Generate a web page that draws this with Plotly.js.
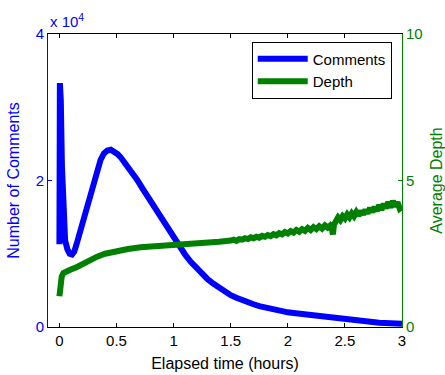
<!DOCTYPE html>
<html>
<head>
<meta charset="utf-8">
<script src="https://cdn.plot.ly/plotly-3.0.1.min.js"></script>
<style>html,body{margin:0;padding:0;background:#fff;}#chart{width:445px;height:375px;}</style>
</head>
<body>
<div id="chart"></div>
<script>
// Elapsed time (hours) and number of comments
const commentTime = [0, 0.004, 0.012, 0.022, 0.035, 0.05, 0.07, 0.09, 0.11, 0.13, 0.15, 0.18, 0.21, 0.24, 0.27, 0.30, 0.33, 0.36, 0.39, 0.42, 0.45, 0.48, 0.51, 0.54, 0.57, 0.60, 0.64, 0.68, 0.72, 0.76, 0.80, 0.85, 0.90, 0.95, 1.00, 1.05, 1.10, 1.15, 1.20, 1.25, 1.30, 1.35, 1.40, 1.45, 1.50, 1.55, 1.60, 1.65, 1.70, 1.75, 1.80, 1.85, 1.90, 1.95, 2.00, 2.05, 2.10, 2.15, 2.20, 2.25, 2.30, 2.35, 2.39, 2.42, 2.46, 2.50, 2.55, 2.60, 2.66, 2.72, 2.80, 2.90, 3.0];
const comments = [11300, 33300, 31000, 22000, 14500, 11800, 10600, 10000, 9900, 10300, 11300, 13000, 14700, 16500, 18300, 20000, 21500, 22800, 23700, 24100, 24200, 24000, 23600, 23100, 22500, 21900, 21000, 20100, 19100, 18100, 17100, 15900, 14700, 13600, 12300, 11000, 9900, 8900, 8000, 7200, 6500, 5900, 5300, 4800, 4350, 4000, 3650, 3350, 3100, 2850, 2650, 2450, 2300, 2150, 2000, 1900, 1800, 1700, 1620, 1560, 1500, 1460, 1420, 1250, 1100, 1000, 900, 800, 700, 650, 580, 500, 450];

// Elapsed time (hours) and average depth
const depthTime = [0, 0.01, 0.02, 0.035, 0.06, 0.1, 0.15, 0.2, 0.25, 0.33, 0.4, 0.5, 0.6, 0.71, 0.85, 1.0, 1.1, 1.2, 1.3, 1.4,
  1.500, 1.525, 1.550, 1.575, 1.600, 1.625, 1.650, 1.675, 1.700, 1.725, 1.750, 1.775, 1.800, 1.825, 1.850, 1.875, 1.900, 1.925, 1.950, 1.975,
  2.000, 2.025, 2.050, 2.075, 2.100, 2.125, 2.150, 2.175, 2.200, 2.225, 2.250, 2.275, 2.300, 2.325, 2.350, 2.370, 2.385, 2.395, 2.405, 2.420,
  2.440, 2.460, 2.480, 2.500, 2.520, 2.540, 2.560, 2.580, 2.600, 2.620, 2.640, 2.660, 2.680, 2.700, 2.720, 2.740, 2.760, 2.780, 2.800, 2.820,
  2.840, 2.860, 2.880, 2.900, 2.920, 2.940, 2.960, 2.980, 3.000];
const depth = [1.05, 1.5, 1.72, 1.84, 1.9, 1.96, 2.04, 2.15, 2.25, 2.4, 2.5, 2.6, 2.66, 2.72, 2.75, 2.78, 2.81, 2.84, 2.87, 2.91,
  2.95, 2.98, 2.94, 3.00, 2.98, 3.03, 3.00, 3.06, 3.03, 3.08, 3.05, 3.11, 3.08, 3.14, 3.10, 3.17, 3.13, 3.20, 3.16, 3.24,
  3.19, 3.27, 3.22, 3.31, 3.25, 3.34, 3.28, 3.38, 3.31, 3.41, 3.34, 3.44, 3.36, 3.47, 3.39, 3.46, 3.36, 3.16, 3.50, 3.66,
  3.74, 3.65, 3.78, 3.70, 3.84, 3.74, 3.88, 3.78, 3.92, 3.80, 3.96, 3.84, 4.00, 3.88, 4.06, 3.92, 4.10, 3.96, 4.16, 4.00,
  4.20, 4.06, 4.26, 4.08, 4.30, 4.12, 4.26, 4.04, 4.10];

const xTicks = [0, 0.5, 1, 1.5, 2, 2.5, 3];
const xTickText = ['0', '0.5', '1', '1.5', '2', '2.5', '3'];
const yTicks = [0, 20000, 40000];
const yTickText = ['0', '2', '4'];
const y2Ticks = [0, 5, 10];
const y2TickText = ['0', '5', '10'];

const BLUE = 'rgb(0,0,255)';
const GREEN = 'rgb(0,128,0)';
const FONT = 'Liberation Sans, Arial, Helvetica, sans-serif';

const traces = [
  {x: commentTime, y: comments, type: 'scatter', mode: 'lines', name: 'Comments',
   line: {color: BLUE, width: 6}, yaxis: 'y'},
  {x: depthTime, y: depth, type: 'scatter', mode: 'lines', name: 'Depth',
   line: {color: GREEN, width: 6}, yaxis: 'y2'}
];

const layout = {
  width: 445, height: 375,
  margin: {l: 48, r: 43, t: 34, b: 48, pad: 0},
  paper_bgcolor: '#fff', plot_bgcolor: '#fff',
  font: {family: FONT, size: 15, color: '#000'},
  showlegend: true,
  legend: {x: 0.971, y: 0.974, xanchor: 'right', yanchor: 'top',
           bordercolor: '#000', borderwidth: 1, bgcolor: '#fff', itemwidth: 50,
           font: {size: 15, color: '#000'}, tracegroupgap: 0},
  xaxis: {range: [-0.1, 3], tickvals: xTicks, ticktext: xTickText,
          ticks: 'inside', ticklen: 4, tickcolor: '#000', tickwidth: 1,
          showline: true, linecolor: '#000', linewidth: 1, mirror: 'ticks',
          showgrid: false, zeroline: false,
          tickfont: {size: 15, color: '#000'},
          title: {text: 'Elapsed time (hours)', font: {size: 16, color: '#000'}, standoff: 9}},
  yaxis: {range: [0, 40000], tickvals: yTicks, ticktext: yTickText,
          ticks: 'inside', ticklen: 4, tickcolor: BLUE,
          showline: true, linecolor: BLUE, linewidth: 1,
          showgrid: false, zeroline: false,
          tickfont: {size: 15, color: BLUE},
          title: {text: 'Number of Comments', font: {size: 16, color: BLUE}, standoff: 12}},
  yaxis2: {range: [0, 10], tickvals: y2Ticks, ticktext: y2TickText, overlaying: 'y', side: 'right',
          ticks: 'inside', ticklen: 4, tickcolor: GREEN,
          showline: true, linecolor: GREEN, linewidth: 1,
          showgrid: false, zeroline: false,
          tickfont: {size: 15, color: GREEN},
          title: {text: 'Average Depth', font: {size: 16, color: GREEN}, standoff: 10}},
  annotations: [{xref: 'paper', yref: 'paper', x: 0, y: 1, xanchor: 'left', yanchor: 'bottom',
                 yshift: 2, showarrow: false, text: 'x 10<sup>4</sup>',
                 font: {size: 15, color: BLUE, family: FONT}}]
};

Plotly.newPlot('chart', traces, layout, {displayModeBar: false, staticPlot: true});
</script>
</body>
</html>
